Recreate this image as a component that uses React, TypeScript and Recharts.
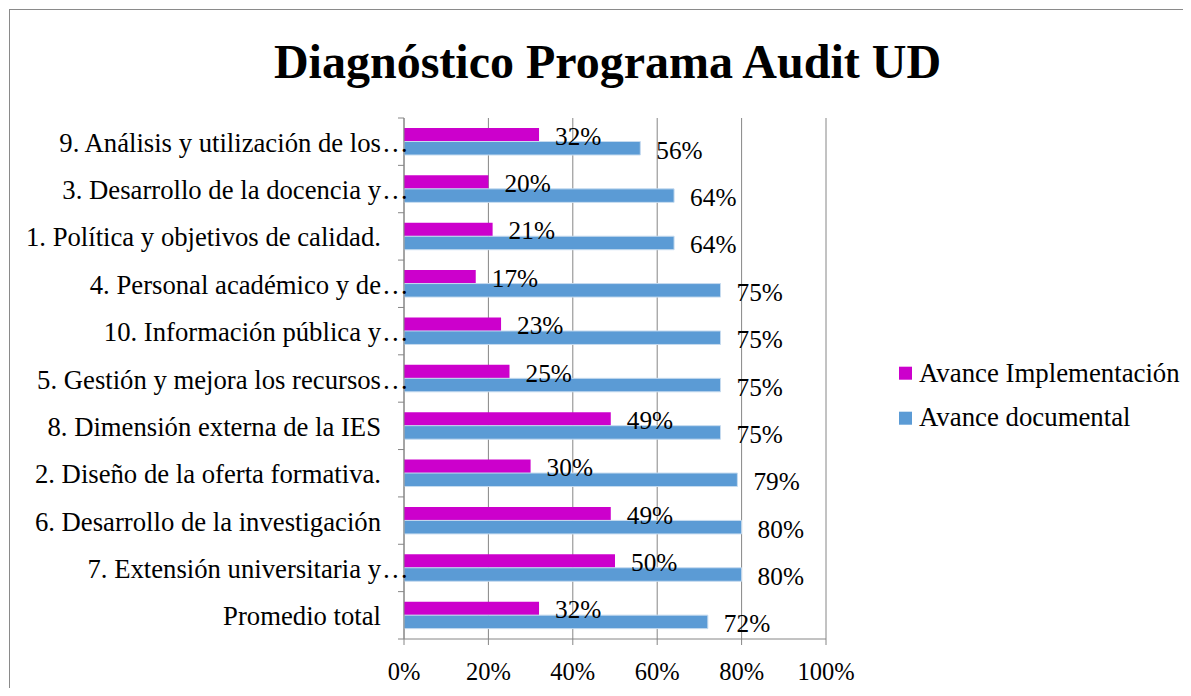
import React from 'react';
import { BarChart, Bar, XAxis, YAxis, CartesianGrid, LabelList } from 'recharts';

const categories = [
  '9. Análisis y utilización de los…',
  '3. Desarrollo de la docencia y…',
  '1. Política y objetivos de calidad.',
  '4. Personal académico y de…',
  '10. Información pública y…',
  '5. Gestión y mejora los recursos…',
  '8. Dimensión externa de la IES',
  '2. Diseño de la oferta formativa.',
  '6. Desarrollo de la investigación',
  '7. Extensión universitaria y…',
  'Promedio total',
];
const implementacion = [32, 20, 21, 17, 23, 25, 49, 30, 49, 50, 32];
const documental = [56, 64, 64, 75, 75, 75, 75, 79, 80, 80, 72];
const xTicks = [0, 20, 40, 60, 80, 100];
const seriesNames = ['Avance Implementación', 'Avance documental'];
const title = 'Diagnóstico Programa Audit UD';

const data = categories.map((c, i) => ({ name: c, impl: implementacion[i], doc: documental[i] }));

const FONT = "'Liberation Serif', 'Times New Roman', serif";
const MAGENTA = '#CC00CC';
const BLUE = '#5B9BD5';
const GRID = '#868686';

const YTick = (props: any) => {
  const { x, y, payload, index } = props;
  const half = payload && payload.offset ? payload.offset : 521 / 22;
  const label: string = String(payload.value);
  const ell = label.endsWith('…');
  const main = ell ? label.slice(0, -1) : label;
  const tx = x - 23;
  return (
    <g>
      <line x1={x - 6} x2={x} y1={y - half} y2={y - half} stroke={GRID} strokeWidth={1} />
      {index === categories.length - 1 && (
        <line x1={x - 6} x2={x} y1={y + half} y2={y + half} stroke={GRID} strokeWidth={1} />
      )}
      <text x={tx} y={y + 10} textAnchor="end" fontFamily={FONT} fontSize={26.7} fill="#000">
        {main}
      </text>
      {ell && (
        <text x={tx + 1} y={y + 10} textAnchor="start" fontFamily={FONT} fontSize={26.7} fill="#000">
          …
        </text>
      )}
    </g>
  );
};

const makeLabel = (dy: number) => (props: any) => {
  const { x, y, width, height, value } = props;
  return (
    <text
      x={x + width + 16}
      y={y + height / 2 + dy}
      fontFamily={FONT}
      fontSize={25.3}
      fill="#000"
      textAnchor="start"
    >
      {value}%
    </text>
  );
};

export default function App() {
  return (
    <div style={{ position: 'relative', width: 1175, height: 680, overflow: 'hidden', background: '#fff' }}>
      <div
        style={{
          position: 'absolute',
          left: 1,
          top: 1,
          width: 1300,
          height: 800,
          border: '1px solid #8a8a8a',
          boxSizing: 'border-box',
        }}
      />
      <div style={{ position: 'absolute', left: 0, top: 0 }}>
        <BarChart
          width={1183}
          height={688}
          data={data}
          layout="vertical"
          margin={{ top: 110, right: 365, bottom: 0, left: 0 }}
          barGap={0}
          barSize={13.5}
        >
          <CartesianGrid horizontal={false} vertical={true} stroke={GRID} strokeWidth={1} />
          <XAxis
            type="number"
            domain={[0, 100]}
            ticks={xTicks}
            tickFormatter={(v: number) => `${v}%`}
            height={57}
            stroke={GRID}
            tickSize={6}
            tickMargin={18}
            tick={{ fill: '#000', fontSize: 24.5, fontFamily: FONT }}
            interval={0}
          />
          <YAxis
            type="category"
            dataKey="name"
            width={396}
            stroke={GRID}
            tickLine={false}
            tickSize={0}
            tickMargin={0}
            interval={0}
            tick={<YTick />}
          />
          <Bar dataKey="impl" fill={MAGENTA} isAnimationActive={false}>
            <LabelList dataKey="impl" content={makeLabel(10)} />
          </Bar>
          <Bar dataKey="doc" fill={BLUE} stroke="#c6dbef" strokeWidth={1} isAnimationActive={false}>
            <LabelList dataKey="doc" content={makeLabel(10.5)} />
          </Bar>
        </BarChart>
      </div>
      <svg
        width={1183}
        height={688}
        style={{ position: 'absolute', left: 0, top: 0, pointerEvents: 'none' }}
      >
        <text x={599.5} y={70} textAnchor="middle" fontFamily={FONT} fontSize={48} fontWeight="bold" fill="#000">
          {title}
        </text>
        <rect x={891} y={358.7} width={13} height={13} fill={MAGENTA} />
        <text x={911} y={373.7} fontFamily={FONT} fontSize={26.8} fill="#000">
          {seriesNames[0]}
        </text>
        <rect x={891} y={403.7} width={13} height={13} fill={BLUE} />
        <text x={911} y={418} fontFamily={FONT} fontSize={26.8} fill="#000">
          {seriesNames[1]}
        </text>
      </svg>
    </div>
  );
}
